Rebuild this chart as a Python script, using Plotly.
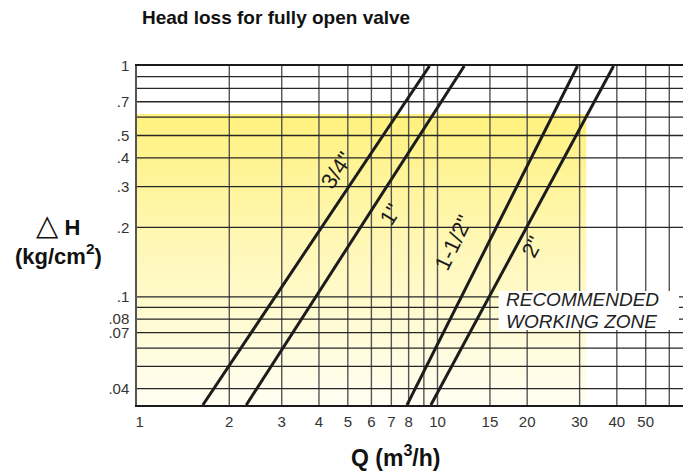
import math
import plotly.graph_objects as go

# ---------------- data ----------------
head_ends = [0.034, 1.0]          # kg/cm2 at bottom / top of chart
flow_3_4 = [1.63, 9.4]            # m3/h for 3/4"
flow_1 = [2.28, 12.3]             # m3/h for 1"
flow_1_1_2 = [7.9, 29.5]          # m3/h for 1-1/2"
flow_2 = [9.5, 39.0]              # m3/h for 2"
series_names = ['3/4"', '1"', '1-1/2"', '2"']

x_tick_vals = [1, 2, 3, 4, 5, 6, 7, 8, 10, 15, 20, 30, 40, 50]
x_tick_text = ["1", "2", "3", "4", "5", "6", "7", "8", "10", "15", "20", "30", "40", "50"]
x_grid = [2, 3, 4, 5, 6, 7, 8, 9, 10, 15, 20, 30, 40, 50, 60]
y_tick_vals = [1, 0.7, 0.5, 0.4, 0.3, 0.2, 0.1, 0.08, 0.07, 0.04]
y_tick_text = ["1", ".7", ".5", ".4", ".3", ".2", ".1", ".08", ".07", ".04"]
y_grid = [0.9, 0.8, 0.7, 0.6, 0.5, 0.4, 0.3, 0.2, 0.1, 0.09, 0.08, 0.07, 0.06, 0.05, 0.04]

zone_q_max = 31.6     # recommended working zone right edge (m3/h)
zone_h_max = 0.62     # recommended working zone top (kg/cm2)

x_min, x_max = 0.98, 68.8
y_min, y_max = 0.034, 1.0

# ---------------- layout helpers ----------------
OFF = 8                      # page body margin
W, H = 691 - OFF, 473 - OFF
PLOT_L, PLOT_T, PW, PH = 137, 66, 552, 339     # plot area in window pixels
L, T = PLOT_L - OFF, PLOT_T - OFF
R = W - L - PW
B = H - T - PH


def px(x):
    return (x - PLOT_L) / PW


def py(y):
    return (PLOT_T + PH - y) / PH


FONT = "Liberation Sans, Arial, Helvetica, sans-serif"
INK = "#1c1c1c"

fig = go.Figure()

# recommended zone (gradient fill)
fig.add_trace(go.Scatter(
    x=[x_min, zone_q_max, zone_q_max, x_min, x_min],
    y=[y_min, y_min, zone_h_max, zone_h_max, y_min],
    mode="none", fill="toself",
    fillgradient=dict(type="vertical",
                      colorscale=[[0, "#FFFEF2"], [0.5, "#FFF8BC"], [1, "#FFF17E"]]),
    hoverinfo="skip", showlegend=False,
))

# grid lines drawn above the zone
gx, gy = [], []
for v in x_grid:
    gx += [v, v, None]
    gy += [y_min, y_max, None]
fig.add_trace(go.Scatter(x=gx, y=gy, mode="lines",
                         line=dict(color="#555555", width=1.4),
                         hoverinfo="skip", showlegend=False))
hx, hy = [], []
for v in y_grid:
    hx += [x_min, x_max, None]
    hy += [v, v, None]
fig.add_trace(go.Scatter(x=hx, y=hy, mode="lines",
                         line=dict(color="#262626", width=1.3),
                         hoverinfo="skip", showlegend=False))

# head-loss curves
for name, q in zip(series_names, [flow_3_4, flow_1, flow_1_1_2, flow_2]):
    fig.add_trace(go.Scatter(x=q, y=head_ends, mode="lines", name=name,
                             line=dict(color=INK, width=3), showlegend=False))

annotations = []
# title
annotations.append(dict(text="<b>Head loss for fully open valve</b>", x=px(140), y=py(17),
                        xref="paper", yref="paper", xanchor="left", yanchor="middle",
                        showarrow=False, font=dict(size=19, color="#111", family=FONT)))
# x title
annotations.append(dict(text="<b>Q (m<sup>3</sup>/h)</b>", x=px(396), y=py(456),
                        xref="paper", yref="paper", xanchor="center", yanchor="middle",
                        showarrow=False, font=dict(size=23, color="#111", family=FONT)))
# y title (two lines in one text)
annotations.append(dict(text="<span style='font-size:29px'>△</span><b> H</b><br><b>(kg/cm<sup>2</sup>)</b>",
                        x=px(58), y=py(239),
                        xref="paper", yref="paper", xanchor="center", yanchor="middle",
                        showarrow=False, font=dict(size=22, color="#111", family=FONT)))
# curve labels
for txt, (lx, ly, ang) in zip(series_names, [(337, 170, -56), (391, 214, -58),
                                             (455, 243, -64), (533, 247, -62)]):
    annotations.append(dict(text=txt, x=px(lx), y=py(ly), xref="paper", yref="paper",
                            xanchor="center", yanchor="middle", textangle=ang,
                            showarrow=False, font=dict(size=22, color=INK, family=FONT)))
# recommended working zone label
for txt, ly in [("RECOMMENDED", 299), ("WORKING ZONE", 321)]:
    annotations.append(dict(text="<i>" + txt + "</i>", x=px(505), y=py(ly),
                            xref="paper", yref="paper", xanchor="left", yanchor="middle",
                            showarrow=False, font=dict(size=19, color="#222", family=FONT)))

shapes = [dict(type="rect", xref="paper", yref="paper",
               x0=px(500), x1=px(681), y0=py(330), y1=py(291),
               fillcolor="white", line=dict(width=0), layer="above")]

fig.update_layout(
    width=W, height=H, autosize=False,
    margin=dict(l=L, r=R, t=T, b=B, pad=0),
    paper_bgcolor="white", plot_bgcolor="white",
    font=dict(family=FONT, size=15, color="#333"),
    annotations=annotations, shapes=shapes,
    showlegend=False,
)
fig.update_xaxes(type="log", range=[math.log10(x_min), math.log10(x_max)],
                 tickvals=x_tick_vals, ticktext=x_tick_text, showgrid=False, zeroline=False,
                 ticks="", showline=True, linecolor="#1a1a1a", linewidth=2, mirror=True,
                 ticklabelstandoff=2, tickfont=dict(size=15, color="#333"))
fig.update_yaxes(type="log", range=[math.log10(y_min), math.log10(y_max)],
                 tickvals=y_tick_vals, ticktext=y_tick_text, showgrid=False, zeroline=False,
                 ticks="", showline=True, linecolor="#555", linewidth=1.5, mirror=True,
                 ticklabelstandoff=3, tickfont=dict(size=15, color="#333"))

fig.write_html("out.html")
